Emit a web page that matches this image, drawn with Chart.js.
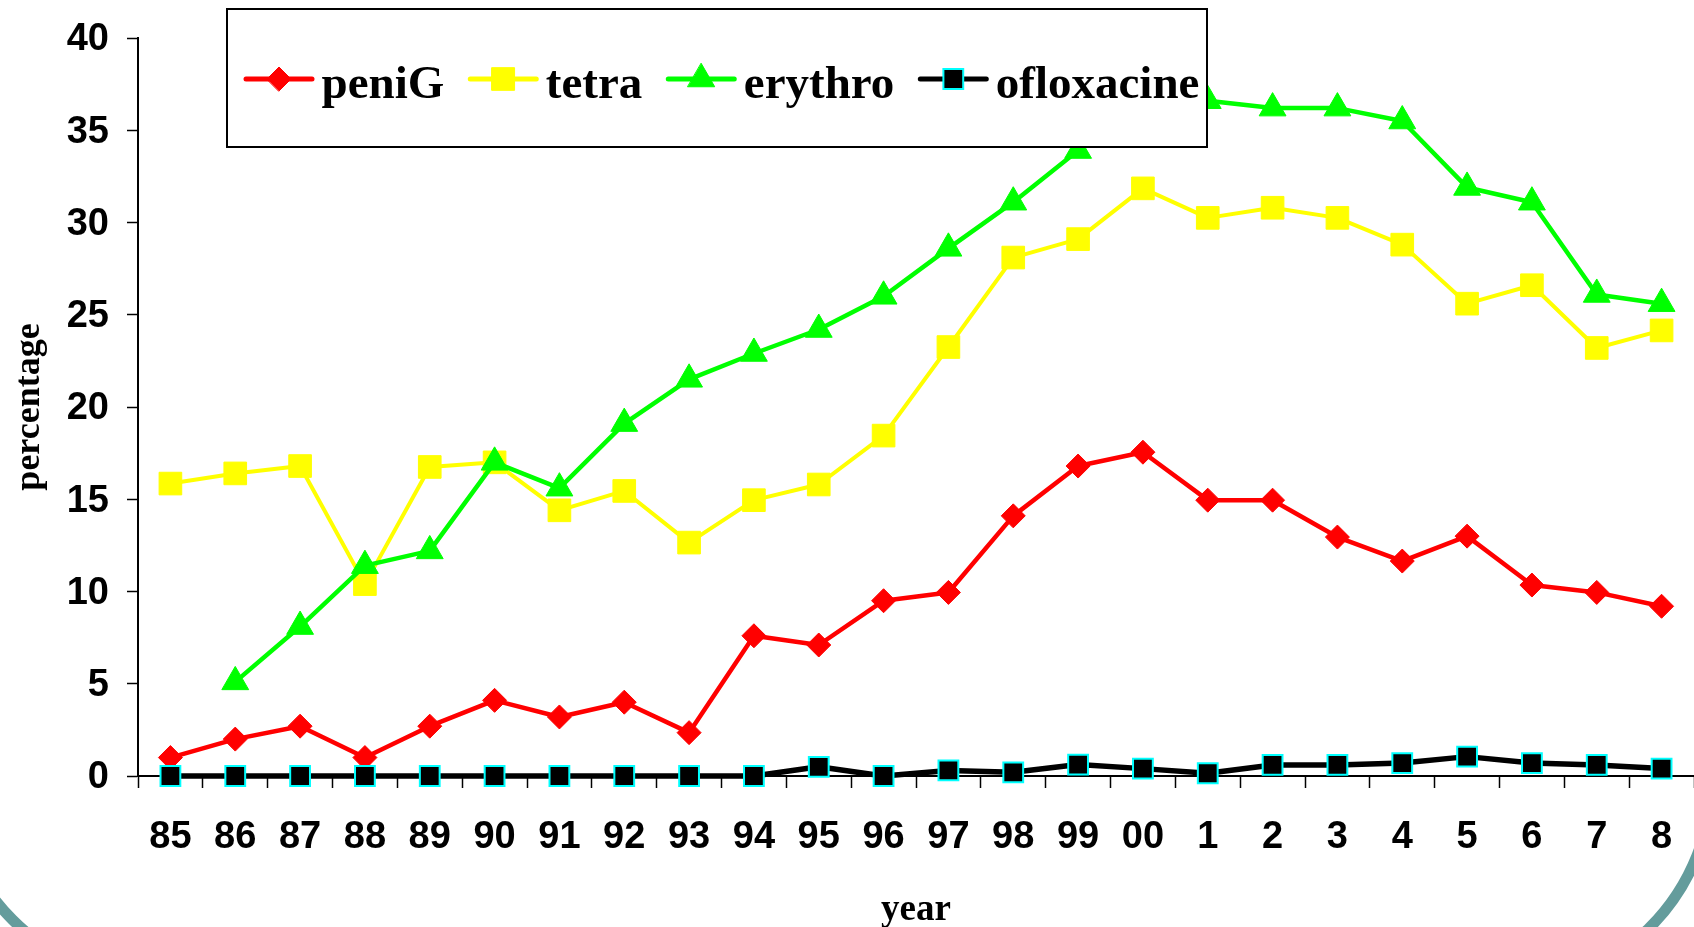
<!DOCTYPE html>
<html>
<head>
<meta charset="utf-8">
<title>resistance</title>
<script src="https://cdn.jsdelivr.net/npm/chart.js@4.4.0/dist/chart.umd.min.js"></script>
<style>
    html, body { margin: 0; padding: 0; background: #fff; }
    #wrap { width: 1694px; height: 927px; position: relative; }
</style>
</head>
<body>
<div id="wrap"><canvas id="chart" width="1694" height="927"></canvas></div>
<script>
// year labels as printed on the axis
const years = ['85', '86', '87', '88', '89', '90', '91', '92', '93', '94', '95', '96', '97', '98', '99', '00', '1', '2', '3', '4', '5', '6', '7', '8'];

// percentages
const peniG = [1.0, 2.0, 2.7, 1.0, 2.7, 4.1, 3.2, 4.0, 2.35, 7.6, 7.1, 9.5, 9.95, 14.1, 16.8, 17.55, 14.95, 14.95, 12.95, 11.65, 13.0, 10.35, 9.95, 9.2];
const tetra = [15.85, 16.4, 16.8, 10.4, 16.75, 17.0, 14.4, 15.45, 12.65, 14.95, 15.8, 18.45, 23.25, 28.1, 29.1, 31.85, 30.25, 30.8, 30.25, 28.8, 25.6, 26.6, 23.2, 24.15];
const erythro = [null, 5.1, 8.1, 11.4, 12.2, 17.0, 15.6, 19.1, 21.5, 22.9, 24.2, 26.0, 28.6, 31.1, 33.9, 38.0, 36.6, 36.2, 36.2, 35.5, 31.9, 31.1, 26.1, 25.6];
const ofloxacine = [0, 0, 0, 0, 0, 0, 0, 0, 0, 0, 0.5, 0, 0.3, 0.2, 0.62, 0.4, 0.15, 0.6, 0.6, 0.7, 1.05, 0.7, 0.6, 0.4];

const yMin = 0;
const yMax = 40;
const yStep = 5;

const sansBold = { family: '"Liberation Sans", Arial, sans-serif', size: 38, weight: 'bold' };
const serifFamily = '"Liberation Serif", "Times New Roman", serif';

// legend drawn as a framed box on top of the lines, excel style
const legendBox = {
    id: 'legendBox',
    afterDatasetsDraw(chart) {
        const ctx = chart.ctx;
        const box = { x: 227, y: 9, w: 980, h: 138 };
        ctx.save();
        ctx.fillStyle = '#fff';
        ctx.fillRect(box.x, box.y, box.w, box.h);
        ctx.lineWidth = 2;
        ctx.strokeStyle = '#000';
        ctx.strokeRect(box.x, box.y, box.w, box.h);

        ctx.font = 'bold 47px ' + serifFamily;
        ctx.textBaseline = 'alphabetic';
        let x = 246;
        const lineY = 79;
        chart.data.datasets.forEach(ds => {
            ctx.strokeStyle = ds.borderColor;
            ctx.lineWidth = 5;
            ctx.lineCap = 'round';
            ctx.beginPath();
            ctx.moveTo(x, lineY);
            ctx.lineTo(x + 66, lineY);
            ctx.stroke();

            ctx.fillStyle = ds.pointBackgroundColor;
            ctx.strokeStyle = ds.pointBorderColor;
            ctx.lineWidth = ds.pointBorderWidth;
            Chart.helpers.drawPoint(ctx, {
                pointStyle: ds.pointStyle,
                radius: ds.pointRadius,
                rotation: 0,
                borderWidth: ds.pointBorderWidth
            }, x + 33, lineY);

            ctx.fillStyle = '#000';
            ctx.fillText(ds.label, x + 75.5, 98);
            x += 75.5 + ctx.measureText(ds.label).width + 26;
        });
        ctx.restore();
    }
};

// rounded slide frame peeking in at the bottom corners
const slideCorners = {
    id: 'slideCorners',
    afterDraw(chart) {
        const ctx = chart.ctx;
        ctx.save();
        ctx.strokeStyle = '#649c9c';
        ctx.lineWidth = 11;
        ctx.beginPath();
        ctx.arc(1499, 777, 213, 0, Math.PI / 2);
        ctx.stroke();
        ctx.beginPath();
        ctx.arc(163, 769, 213, Math.PI / 2, Math.PI);
        ctx.stroke();
        ctx.restore();
    }
};

new Chart(document.getElementById('chart'), {
    type: 'line',
    data: {
        labels: years,
        datasets: [
            {
                label: 'peniG',
                data: peniG,
                borderColor: '#ff0000',
                backgroundColor: '#ff0000',
                borderWidth: 4.5,
                pointStyle: 'rectRot',
                pointRadius: 12,
                pointBackgroundColor: '#ff0000',
                pointBorderColor: '#ff0000',
                pointBorderWidth: 1,
                order: 4,
            },
            {
                label: 'tetra',
                data: tetra,
                borderColor: '#ffff00',
                backgroundColor: '#ffff00',
                borderWidth: 4,
                pointStyle: 'rect',
                pointRadius: 16,
                pointBackgroundColor: '#ffff00',
                pointBorderColor: '#ffff00',
                pointBorderWidth: 1,
                order: 3,
            },
            {
                label: 'erythro',
                data: erythro,
                borderColor: '#00ff00',
                backgroundColor: '#00ff00',
                borderWidth: 4.5,
                pointStyle: 'triangle',
                pointRadius: 15.5,
                pointBackgroundColor: '#00ff00',
                pointBorderColor: '#00ff00',
                pointBorderWidth: 1,
                order: 2,
            },
            {
                label: 'ofloxacine',
                data: ofloxacine,
                borderColor: '#000000',
                backgroundColor: '#000000',
                borderWidth: 5.5,
                pointStyle: 'rect',
                pointRadius: 14,
                pointBackgroundColor: '#000000',
                pointBorderColor: '#00ffff',
                pointBorderWidth: 2,
                order: 1,
            },
        ],
    },
    options: {
        responsive: false,
        animation: false,
        devicePixelRatio: 1,
        elements: {
            line: { tension: 0, fill: false, borderJoinStyle: 'round', borderCapStyle: 'round' },
        },
        datasets: {
            line: { clip: false, spanGaps: false },
        },
        layout: {
            autoPadding: false,
            padding: { top: 38, left: 0, right: 0, bottom: 0 },
        },
        plugins: {
            legend: { display: false },
            tooltip: { enabled: false },
        },
        scales: {
            x: {
                offset: true,
                grid: {
                    display: true,
                    offset: true,
                    drawOnChartArea: false,
                    drawTicks: true,
                    tickLength: 12,
                    tickWidth: 1.5,
                    color: '#000',
                },
                border: { display: true, color: '#000', width: 2 },
                ticks: {
                    color: '#000',
                    font: sansBold,
                    padding: 27,
                    autoSkip: false,
                    maxRotation: 0,
                },
                title: {
                    display: true,
                    text: 'year',
                    color: '#000',
                    font: { family: serifFamily, size: 37, weight: 'bold', lineHeight: 0.9 },
                    padding: { top: 0, bottom: 0 },
                },
                afterFit(scale) {
                    scale.height = 151;
                    scale.paddingLeft = 0;
                    scale.paddingRight = 0;
                },
            },
            y: {
                min: yMin,
                max: yMax,
                grid: {
                    display: true,
                    drawOnChartArea: false,
                    drawTicks: true,
                    tickLength: 11,
                    tickWidth: 1.5,
                    color: '#000',
                },
                border: { display: true, color: '#000', width: 2 },
                ticks: {
                    stepSize: yStep,
                    color: '#000',
                    font: sansBold,
                    padding: 18,
                    labelOffset: 2,
                },
                title: {
                    display: true,
                    text: 'percentage',
                    color: '#000',
                    font: { family: serifFamily, size: 36, weight: 'bold' },
                    padding: { top: 8, bottom: 0 },
                },
                afterFit(scale) {
                    scale.width = 138;
                    scale.paddingTop = 0;
                    scale.paddingBottom = 0;
                },
            },
        },
    },
    plugins: [legendBox, slideCorners],
});
</script>
</body>
</html>
